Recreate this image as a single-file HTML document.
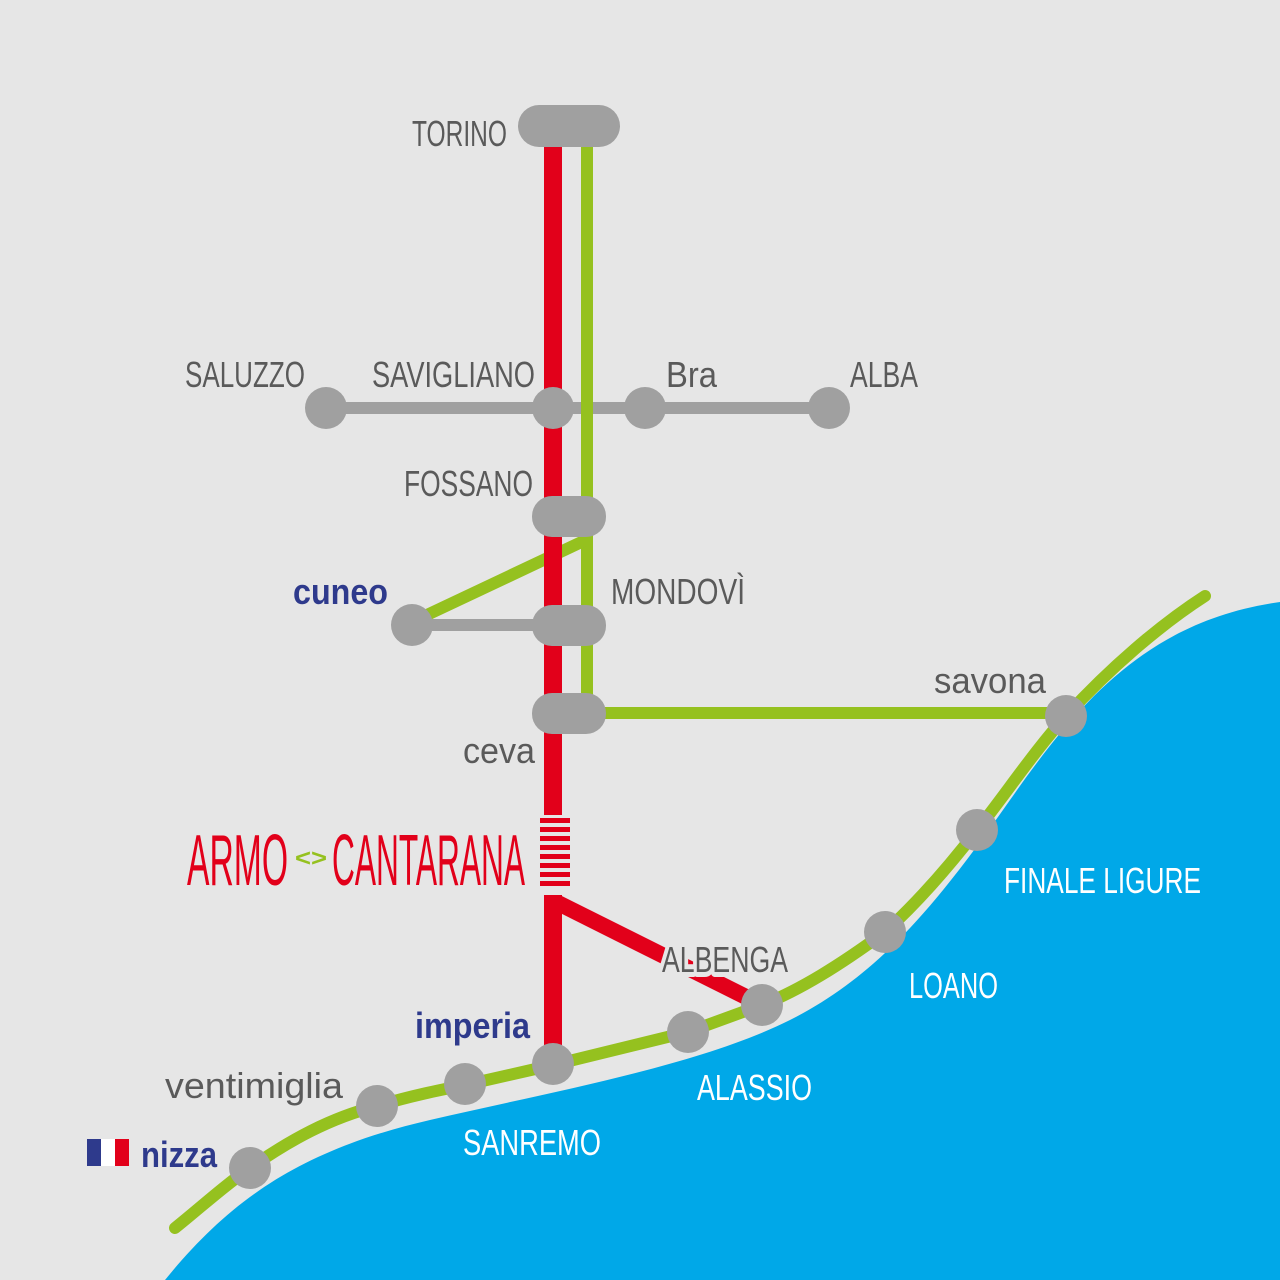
<!DOCTYPE html>
<html><head><meta charset="utf-8"><style>
html,body{margin:0;padding:0;background:#e6e6e6;}
svg{display:block}
text{font-family:"Liberation Sans",sans-serif;}
</style></head><body>
<svg width="1280" height="1280" viewBox="0 0 1280 1280" xmlns="http://www.w3.org/2000/svg">
<rect width="1280" height="1280" fill="#e6e6e6"/>
<path d="M165,1280 C230,1200 300,1150 430,1120 C560,1090 700,1065 790,1020 C880,975 940,900 1010,800 C1080,700 1150,620 1280,602 L1280,1280 Z" fill="#00a8e8"/>
<line x1="326" y1="408" x2="829" y2="408" stroke="#a0a0a0" stroke-width="12"/>
<line x1="412" y1="625" x2="570" y2="625" stroke="#a0a0a0" stroke-width="12"/>
<line x1="587" y1="130" x2="587" y2="713" stroke="#95c11f" stroke-width="12"/>
<line x1="412" y1="622" x2="590" y2="538" stroke="#95c11f" stroke-width="12"/>
<line x1="587" y1="713" x2="1066" y2="713" stroke="#95c11f" stroke-width="12"/>
<path d="M175,1228 C200,1208 225,1185 250,1168 C290,1140 330,1118 377,1106 C410,1096 440,1090 465,1085 L553,1065 L688,1032 L762,1005 C800,990 840,965 885,932 C920,900 950,865 977,830 C1005,795 1035,750 1066,716 C1110,668 1160,625 1205,596" fill="none" stroke="#95c11f" stroke-width="12" stroke-linecap="round"/>
<line x1="553" y1="130" x2="553" y2="815" stroke="#e2001a" stroke-width="18"/>
<line x1="553" y1="895" x2="553" y2="1062" stroke="#e2001a" stroke-width="18"/>
<line x1="558" y1="903" x2="762" y2="1005" stroke="#e2001a" stroke-width="16"/>
<g fill="#e2001a">
<rect x="540" y="818" width="30" height="5"/><rect x="540" y="827" width="30" height="5"/>
<rect x="540" y="836" width="30" height="5"/><rect x="540" y="845" width="30" height="5"/>
<rect x="540" y="854" width="30" height="5"/><rect x="540" y="863" width="30" height="5"/>
<rect x="540" y="872" width="30" height="5"/><rect x="540" y="881" width="30" height="5"/>
</g>
<g fill="#a0a0a0">
<rect x="518" y="105" width="102" height="42" rx="21"/>
<rect x="532" y="496" width="74" height="41" rx="20"/>
<rect x="532" y="605" width="74" height="41" rx="20"/>
<rect x="532" y="693" width="74" height="41" rx="20"/>
<circle cx="326" cy="408" r="21"/><circle cx="553" cy="408" r="21"/>
<circle cx="645" cy="408" r="21"/><circle cx="829" cy="408" r="21"/>
<circle cx="412" cy="625" r="21"/>
<circle cx="1066" cy="716" r="21"/><circle cx="977" cy="830" r="21"/>
<circle cx="885" cy="932" r="21"/><circle cx="762" cy="1005" r="21"/>
<circle cx="688" cy="1032" r="21"/><circle cx="553" cy="1064" r="21"/>
<circle cx="465" cy="1084" r="21"/><circle cx="377" cy="1106" r="21"/>
<circle cx="250" cy="1168" r="21"/>
</g>
<rect x="87" y="1139" width="14" height="27" fill="#2e3a8c"/>
<rect x="101" y="1139" width="14" height="27" fill="#fff"/>
<rect x="115" y="1139" width="14" height="27" fill="#e2001a"/>
<g font-size="36" fill="#5a5a5a">
<text x="412" y="146" textLength="95" lengthAdjust="spacingAndGlyphs">TORINO</text>
<text x="185" y="387" textLength="120" lengthAdjust="spacingAndGlyphs">SALUZZO</text>
<text x="372" y="387" textLength="163" lengthAdjust="spacingAndGlyphs">SAVIGLIANO</text>
<text x="666" y="387" textLength="51" lengthAdjust="spacingAndGlyphs">Bra</text>
<text x="850" y="387" textLength="68" lengthAdjust="spacingAndGlyphs">ALBA</text>
<text x="404" y="496" textLength="129" lengthAdjust="spacingAndGlyphs">FOSSANO</text>
<text x="611" y="604" textLength="134" lengthAdjust="spacingAndGlyphs">MONDOVÌ</text>
<text x="934" y="693" textLength="112" lengthAdjust="spacingAndGlyphs">savona</text>
<text x="463" y="763" textLength="72" lengthAdjust="spacingAndGlyphs">ceva</text>
<text x="662" y="972" textLength="126" lengthAdjust="spacingAndGlyphs" stroke="#e6e6e6" stroke-width="10" paint-order="stroke" stroke-linejoin="round">ALBENGA</text>
<text x="165" y="1098" textLength="178" lengthAdjust="spacingAndGlyphs">ventimiglia</text>
</g>
<g font-size="36" fill="#2e3a8c" font-weight="bold">
<text x="293" y="604" textLength="95" lengthAdjust="spacingAndGlyphs">cuneo</text>
<text x="415" y="1038" textLength="115" lengthAdjust="spacingAndGlyphs">imperia</text>
<text x="141" y="1167" textLength="76" lengthAdjust="spacingAndGlyphs">nizza</text>
</g>
<g font-size="36" fill="#ffffff">
<text x="463" y="1155" textLength="138" lengthAdjust="spacingAndGlyphs">SANREMO</text>
<text x="697" y="1100" textLength="115" lengthAdjust="spacingAndGlyphs">ALASSIO</text>
<text x="909" y="998" textLength="89" lengthAdjust="spacingAndGlyphs">LOANO</text>
<text x="1004" y="893" textLength="197" lengthAdjust="spacingAndGlyphs">FINALE LIGURE</text>
</g>
<g font-size="72" fill="#e2001a">
<text x="187" y="885" textLength="101" lengthAdjust="spacingAndGlyphs">ARMO</text>
<text x="332" y="885" textLength="193" lengthAdjust="spacingAndGlyphs">CANTARANA</text>
</g>
<text x="295" y="866" font-size="24" font-weight="bold" fill="#95c11f" textLength="32" lengthAdjust="spacingAndGlyphs">&lt;&gt;</text>
</svg>
</body></html>
